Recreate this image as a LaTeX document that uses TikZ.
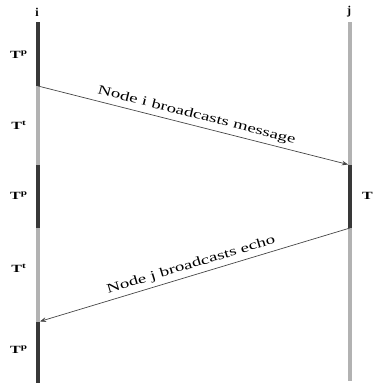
\documentclass[tikz,border=0pt]{standalone}
\usepackage{fontspec}
\setmainfont{Liberation Serif}
\usetikzlibrary{arrows.meta, positioning}

% stretched text, as in the timing charts
\newcommand{\wide}[1]{\scalebox{1.45}[1]{#1}}
\newcommand{\Tlab}[1]{\wide{\textbf{T}\textsuperscript{\textbf{#1}}}}

\begin{document}
\begin{tikzpicture}[x=1pt, y=-1pt, >=Stealth,
    busy/.style={line width=4pt, draw=black!78},
    idle/.style={line width=4pt, draw=black!30},
    msg/.style={->, draw=black!72, line width=0.7pt, shorten >=2pt},
    phase/.style={font=\fontsize{11}{12}\selectfont, inner sep=0pt},
    note/.style={font=\fontsize{13}{14}\selectfont, sloped, above, inner sep=4pt}]
  \useasboundingbox (0,0) rectangle (373,383);

  % node names
  \node[font=\fontsize{12}{12}\selectfont\bfseries] (i) at (37,12) {i};
  \node[font=\fontsize{12}{12}\selectfont\bfseries] (j) at (349,12) {j};

  % points on the two time lines
  \coordinate (i0) at (38,22);
  \coordinate (i1) at (38,86);
  \coordinate (i2) at (38,165);
  \coordinate (i3) at (38,228);
  \coordinate (i4) at (38,322);
  \coordinate (i5) at (38,383);
  \coordinate (j0) at (350,22);
  \coordinate (j1) at (350,165);
  \coordinate (j2) at (350,228);
  \coordinate (j3) at (350,381);

  % time line of i
  \draw[busy] (i0) -- (i1);
  \draw[idle] (i1) -- (i2);
  \draw[busy] (i2) -- (i3);
  \draw[idle] (i3) -- (i4);
  \draw[busy] (i4) -- (i5);

  % time line of j
  \draw[idle] (j0) -- (j1);
  \draw[busy] (j1) -- (j2);
  \draw[idle] (j2) -- (j3);

  % phase labels
  \node[phase] (p1) at (19,55) {\Tlab{p}};
  \node[phase] (t1) at (19,125) {\Tlab{t}};
  \node[phase] (p2) at (19,196) {\Tlab{p}};
  \node[phase] (t2) at (19,268) {\Tlab{t}};
  \node[phase] (p3) at (19,350) {\Tlab{p}};
  \node[phase, anchor=east] (pj) at (373,196) {\wide{\textbf{T}}};

  % messages
  \draw[msg] (i1) -- node[note] {\wide{Node i broadcasts message}} (j1);
  \draw[msg] (j2) -- node[note] {\wide{Node j broadcasts echo}} (i4);
\end{tikzpicture}
\end{document}
